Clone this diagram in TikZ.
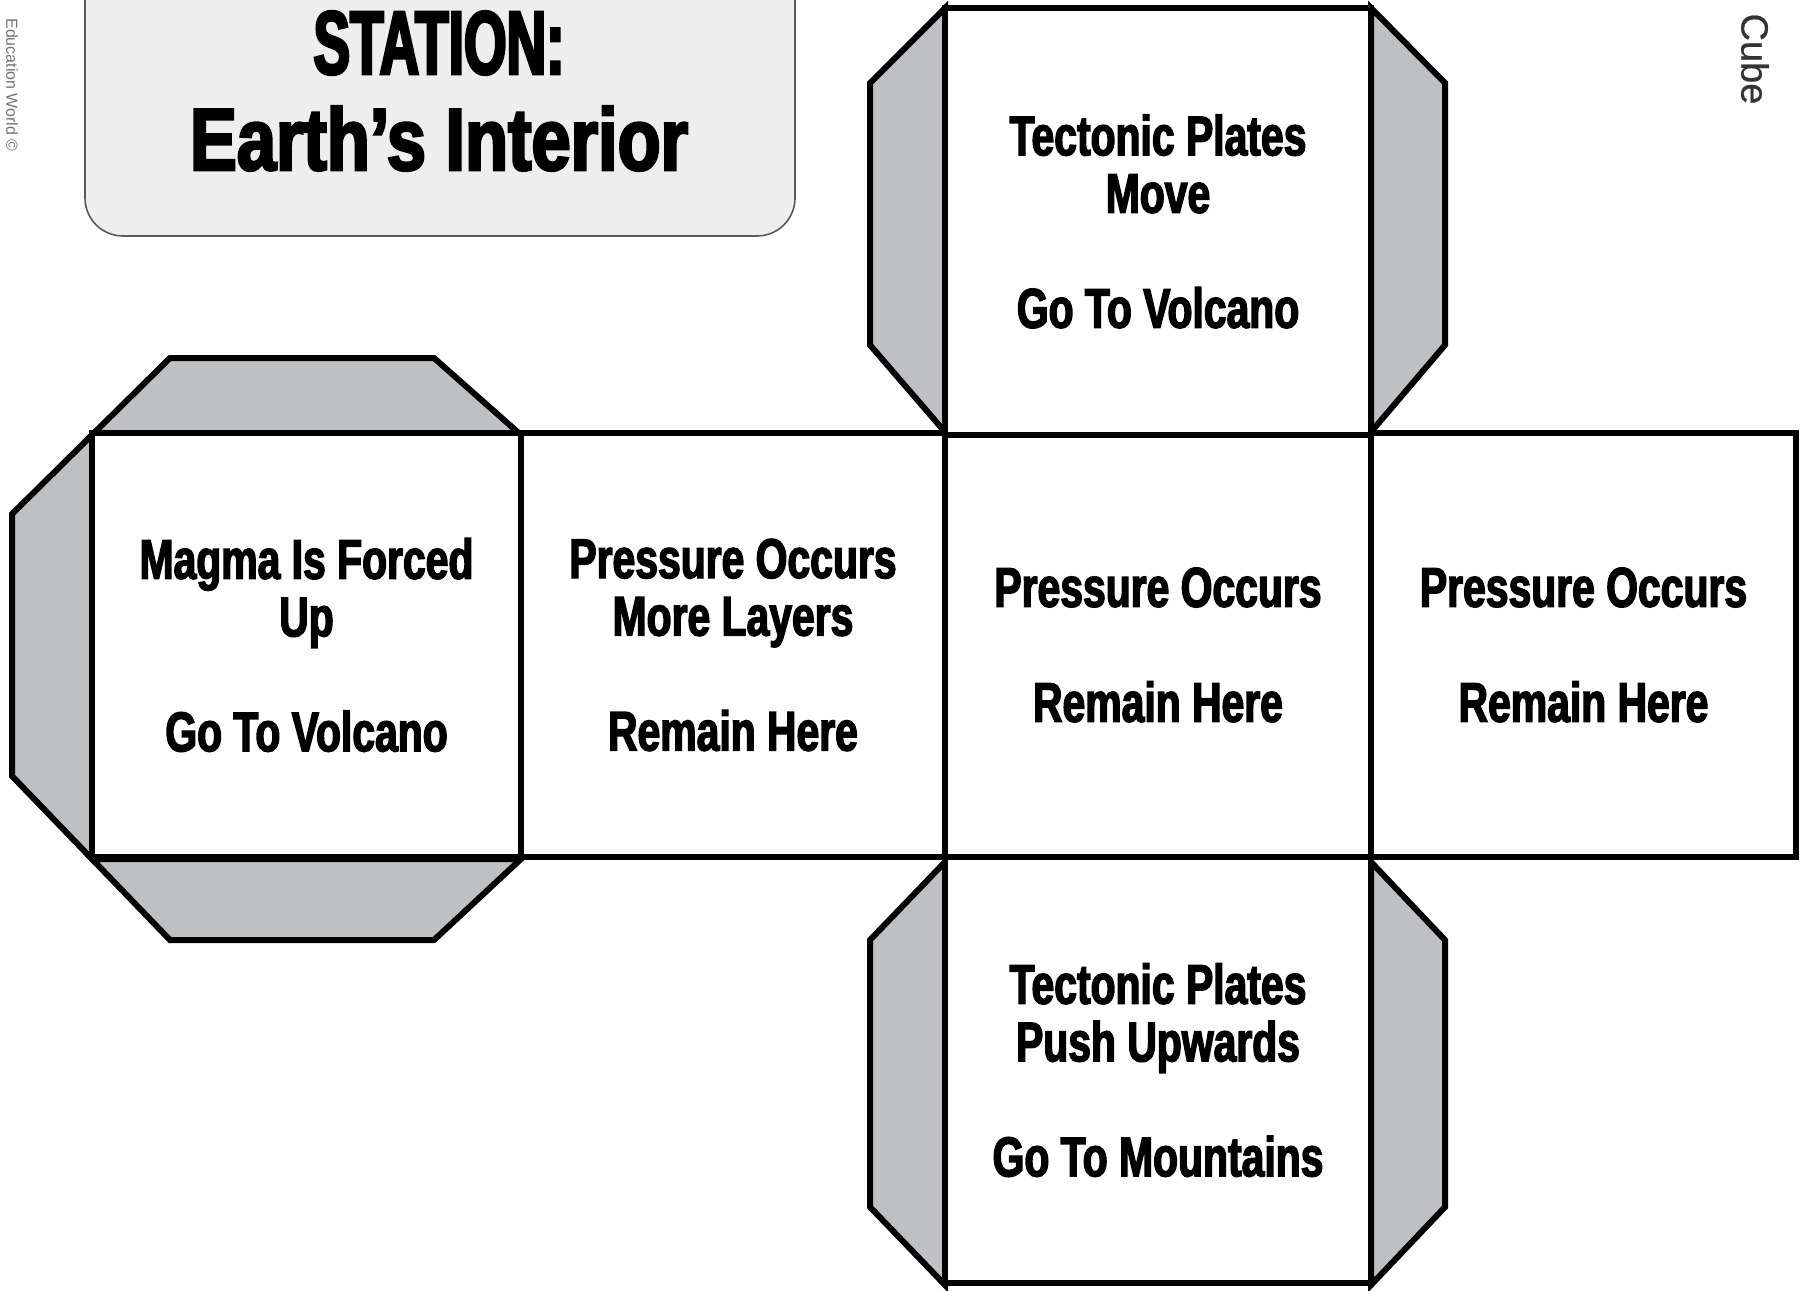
\documentclass[tikz,border=0pt]{standalone}
\usepackage{fontspec}
\newfontfamily\cubefont{Liberation Sans}[FakeStretch=0.73,FakeBold=2.5]
\newfontfamily\titleAfont{Liberation Sans}[FakeStretch=0.61,FakeBold=3]
\newfontfamily\titleBfont{Liberation Sans}[FakeStretch=0.8,FakeBold=3]
\newfontfamily\labelfont{Liberation Sans}[FakeBold=0.6]
\newfontfamily\smallfont{Liberation Sans}
\definecolor{flapgray}{HTML}{BFC0C2}
\definecolor{boxgray}{HTML}{EEEEEE}
\definecolor{boxline}{HTML}{5A5A5A}
\tikzset{
  face/.style={draw=black, line width=3pt, fill=white, inner sep=0pt, align=center,
    font=\cubefont\bfseries\fontsize{28}{28.75}\selectfont},
  flap/.style={draw=black, line width=3pt, fill=flapgray, line join=miter},
  titlebox/.style={draw=boxline, line width=0.8pt, fill=boxgray, rounded corners=19pt},
}
\begin{document}
\begin{tikzpicture}[x=0.5pt,y=-0.5pt]
\useasboundingbox (0,0) rectangle (1803,1290);
\fill[white] (0,0) rectangle (1803,1290);
% title
\path[titlebox] (85,-60) rectangle (795,236);
\node[anchor=base, inner sep=0pt, font=\titleAfont\bfseries\fontsize{45}{45}\selectfont] (title1) at (439,74) {STATION:};
\node[anchor=base, inner sep=0pt, font=\titleBfont\bfseries\fontsize{44}{44}\selectfont] (title2) at (439,170) {Earth’s Interior};
% side labels
\node[rotate=-90, inner sep=0pt, text=black!80, font=\labelfont\fontsize{19}{19}\selectfont] (cubelabel) at (1755,59) {Cube};
\node[rotate=-90, inner sep=0pt, text=black!55, font=\smallfont\fontsize{8}{8}\selectfont] (edulabel) at (12,85) {Education World ©};
% flaps
\path[flap] (945,8)--(870,83)--(870,345)--(945,432)--cycle;
\path[flap] (1371,8)--(1445,83)--(1445,345)--(1371,432)--cycle;
\path[flap] (945,862)--(870,940)--(870,1207)--(945,1285)--cycle;
\path[flap] (1371,862)--(1445,940)--(1445,1207)--(1371,1285)--cycle;
\path[flap] (92,435)--(170,358)--(434,358)--(521,435)--cycle;
\path[flap] (92,859)--(170,940)--(434,940)--(521,859)--cycle;
\path[flap] (92,435)--(12,514)--(12,776)--(92,859)--cycle;
% faces
\node[face, minimum width=214.5pt, minimum height=212pt] (left) at (306.5,645)
  {Magma Is Forced\\Up\\[28.75pt]Go To Volcano};
\node[face, minimum width=212pt, minimum height=212pt] (second) at (733,645)
  {Pressure Occurs\\More Layers\\[28.75pt]Remain Here};
\node[face, minimum width=213pt, minimum height=212pt] (third) at (1158,645)
  {Pressure Occurs\\[28.75pt]Remain Here};
\node[face, minimum width=212.5pt, minimum height=212pt] (fourth) at (1583.5,645)
  {Pressure Occurs\\[28.75pt]Remain Here};
\node[face, minimum width=213pt, minimum height=213.5pt] (top) at (1158,221.5)
  {Tectonic Plates\\Move\\[28.75pt]Go To Volcano};
\node[face, minimum width=213pt, minimum height=213pt] (bottom) at (1158,1070)
  {Tectonic Plates\\Push Upwards\\[28.75pt]Go To Mountains};
\end{tikzpicture}
\end{document}
